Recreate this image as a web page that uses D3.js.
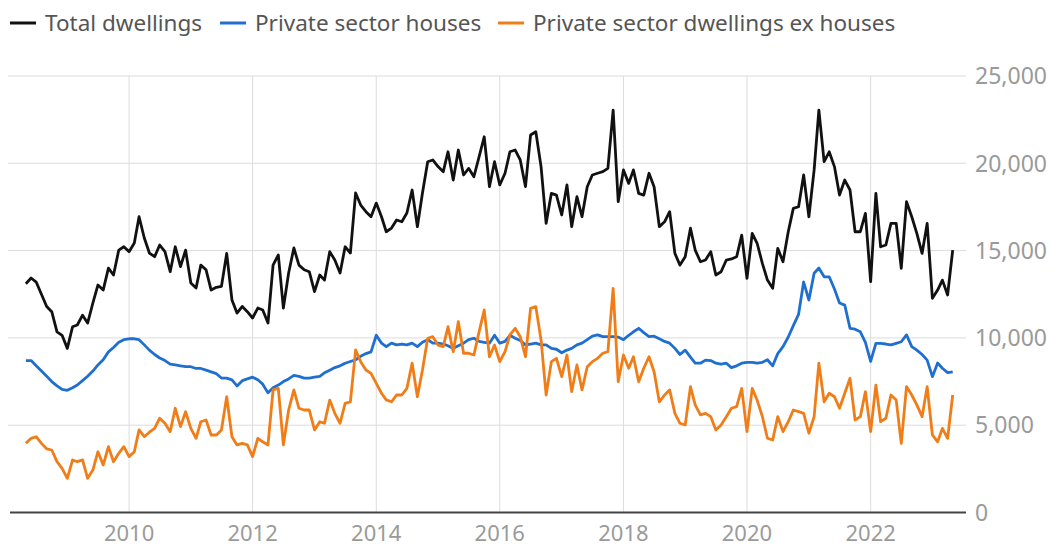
<!DOCTYPE html>
<html>
<head>
<meta charset="utf-8">
<script src="https://cdn.jsdelivr.net/npm/d3@7"></script>
<style>
  body { margin: 0; background: #fff; }
  svg { display: block; font-family: "Noto Sans", sans-serif; }
</style>
</head>
<body>
<svg id="chart"></svg>
<script>
// monthly, May 2008 - May 2023
var firstMonth = new Date(2008, 4, 1);

var seriesNames = ["Total dwellings", "Private sector houses", "Private sector dwellings ex houses"];
var seriesColors = ["#111111", "#1f6fd0", "#f07d17"];

var totalDwellings = [
  13100, 13430, 13200, 12500, 11800, 11500, 10350, 10150,
  9400, 10640, 10740, 11300, 10850, 12000, 13030, 12740, 14000, 13600, 15030, 15220,
  14940, 15430, 16940, 15720, 14860, 14650, 15320, 14940, 13790, 15220, 14080, 15030,
  13140, 12860, 14170, 13900, 12740, 12900, 12950, 14840, 12170, 11420, 11800, 11500,
  11140, 11710, 11600, 10850, 14170, 14750, 11710, 13720, 15150, 14170, 13900, 13790,
  12650, 13600, 13310, 14940, 14460, 13720, 15220, 14860, 18300, 17610, 17230, 16940,
  17720, 16940, 16080, 16290, 16750, 16650, 17150, 18470, 16370, 18300, 20090, 20190,
  19810, 19520, 20660, 19040, 20760, 19330, 19710, 19230, 20380, 21520, 18660, 20090,
  18760, 19430, 20660, 20760, 20190, 18660, 21620, 21810, 19810, 16560, 18280, 18180,
  17040, 18760, 16370, 18090, 16940, 18660, 19330, 19430, 19520, 19710, 23050, 17800,
  19620, 18850, 19620, 18280, 18180, 19430, 18660, 16370, 16650, 17230, 14840, 14170,
  14650, 16280, 15030, 14360, 14460, 14940, 13600, 13790, 14460, 14520, 14650, 15890,
  13410, 15990, 15420, 14270, 13310, 12840, 15130, 14360, 16080, 17420, 17510, 19330,
  16940, 19620, 23050, 20090, 20660, 19810, 18180, 19040, 18470, 16080, 16080, 17130,
  13220, 18280, 15220, 15320, 16560, 16560, 13990, 17800, 16940, 15990, 14840, 16560,
  12270, 12740, 13310, 12460, 15030
];

var privateHouses = [
  8700, 8700, 8400, 8100, 7800, 7500, 7250, 7050,
  7000, 7150, 7300, 7550, 7800, 8100, 8450, 8750, 9200, 9450, 9750, 9900,
  9950, 9950, 9900, 9600, 9300, 9050, 8850, 8700, 8500, 8450, 8400, 8350,
  8350, 8250, 8250, 8150, 8050, 7950, 7700, 7700, 7600, 7250, 7550, 7650,
  7750, 7600, 7350, 6850, 7150, 7300, 7500, 7650, 7850, 7800, 7700, 7700,
  7750, 7800, 8000, 8150, 8300, 8400, 8550, 8650, 8750, 8950, 9100, 9200,
  10150, 9700, 9500, 9700, 9600, 9650, 9600, 9700, 9500, 9750, 9900, 9700,
  9700, 9650, 9550, 9400, 9550, 9700, 9900, 9980, 9800, 9750, 9700, 10150,
  9700, 9800, 10150, 9980, 9850, 9600, 9650, 9700, 9600, 9600, 9400, 9350,
  9150, 9300, 9400, 9600, 9700, 9900, 10100, 10170, 10070, 10070, 10070, 10050,
  9900, 10150, 10350, 10550, 10300, 10070, 10100, 9950, 9800, 9700, 9400, 9050,
  9300, 8900, 8550, 8550, 8730, 8700, 8550, 8500, 8550, 8300, 8400, 8550,
  8600, 8600, 8550, 8600, 8750, 8400, 9100, 9500, 10050, 10700, 11350, 13200,
  12170, 13700, 14000, 13500, 13500, 12800, 12000, 11880, 10550, 10500, 10350, 9750,
  8650, 9690, 9690, 9650, 9600, 9690, 9780, 10170, 9500, 9300, 9050, 8730,
  7780, 8560, 8260, 8010, 8060
];

var privateExHouses = [
  3960, 4250, 4340, 3960, 3650, 3580, 2910, 2530,
  1960, 3010, 2910, 3010, 1960, 2430, 3480, 2720, 3770, 2910, 3390, 3770,
  3200, 3480, 4730, 4340, 4600, 4820, 5400, 5110, 4630, 5970, 4920, 5770,
  4820, 4250, 5200, 5300, 4440, 4440, 4730, 6630, 4340, 3870, 3960, 3870,
  3200, 4250, 4050, 3870, 7020, 7110, 3870, 5870, 7020, 5970, 5870, 5870,
  4730, 5200, 5110, 6440, 5680, 5110, 6250, 6340, 9310, 8640, 8160, 7970,
  7400, 6830, 6450, 6340, 6730, 6730, 7110, 8550, 6630, 8160, 9980, 10070,
  9590, 9500, 10640, 9210, 10930, 9120, 9120, 9020, 10360, 11600, 8920, 9590,
  8640, 9210, 10170, 10550, 10070, 8920, 11690, 11790, 9880, 6730, 8640, 8830,
  7780, 9020, 6920, 8450, 7020, 8350, 8640, 8830, 9120, 9210, 12840, 7490,
  9020, 8260, 8920, 7490, 8260, 8920, 8060, 6340, 6730, 7020, 5680, 5110,
  5010, 7210, 6160, 5590, 5680, 5490, 4730, 5010, 5490, 5970, 6060, 7110,
  4630, 7110, 6440, 5500, 4250, 4150, 5490, 4630, 5200, 5870, 5780, 5680,
  4540, 5490, 8550, 6340, 6830, 6630, 5970, 6830, 7690, 5300, 5490, 6920,
  4630, 7300, 5200, 5400, 6730, 6440, 3960, 7210, 6730, 6160, 5490, 7210,
  4440, 4050, 4820, 4250, 6730
];

var yTicks = [0, 5000, 10000, 15000, 20000, 25000];

var width = 1057, height = 548;
var plotLeft = 8, plotRight = 966, plotTop = 76, plotBottom = 512.5;

var months = totalDwellings.map(function(d, i) { return d3.timeMonth.offset(firstMonth, i); });
var series = [totalDwellings, privateHouses, privateExHouses];

var svg = d3.select("#chart").attr("width", width).attr("height", height);

var x = d3.scaleTime()
  .domain([new Date(2008, 0, 1), new Date(2023, 0, 1)])
  .range([5.4, 5.4 + 15 * 61.8]);

var y = d3.scaleLinear()
  .domain([0, 25000])
  .range([plotBottom, plotTop]);

// horizontal grid
svg.append("g")
  .selectAll("line")
  .data(yTicks.slice(1))
  .enter().append("line")
  .attr("x1", plotLeft).attr("x2", plotRight)
  .attr("y1", function(d) { return y(d); })
  .attr("y2", function(d) { return y(d); })
  .attr("stroke", "#dcdcdc").attr("stroke-width", 1);

// vertical grid
var xTicks = x.ticks(d3.timeYear.every(2)).filter(function(d) { return d.getFullYear() >= 2010; });
svg.append("g")
  .selectAll("line")
  .data(xTicks)
  .enter().append("line")
  .attr("x1", function(d) { return x(d); })
  .attr("x2", function(d) { return x(d); })
  .attr("y1", plotTop).attr("y2", plotBottom)
  .attr("stroke", "#dcdcdc").attr("stroke-width", 1);

// lines
var line = d3.line()
  .x(function(d, i) { return x(months[i]); })
  .y(function(d) { return y(d); });

svg.append("g")
  .selectAll("path")
  .data(series)
  .enter().append("path")
  .attr("d", function(d) { return line(d); })
  .attr("fill", "none")
  .attr("stroke", function(d, i) { return seriesColors[i]; })
  .attr("stroke-width", 2.8)
  .attr("stroke-linejoin", "round");

// baseline
svg.append("line")
  .attr("x1", 10).attr("x2", plotRight)
  .attr("y1", y(0)).attr("y2", y(0))
  .attr("stroke", "#444").attr("stroke-width", 2);

// y labels
svg.append("g")
  .selectAll("text")
  .data(yTicks)
  .enter().append("text")
  .attr("x", 975)
  .attr("y", function(d) { return y(d); })
  .attr("dy", "0.36em")
  .attr("fill", "#9a9a9a")
  .attr("font-size", 23)
  .text(function(d) { return d3.format(",")(d); });

// x labels
svg.append("g")
  .selectAll("text")
  .data(xTicks)
  .enter().append("text")
  .attr("x", function(d) { return x(d); })
  .attr("y", 541)
  .attr("text-anchor", "middle")
  .attr("fill", "#9a9a9a")
  .attr("font-size", 22)
  .text(function(d) { return d3.timeFormat("%Y")(d); });

// legend
var legendX = [10, 220, 498];
var legend = svg.append("g")
  .selectAll("g")
  .data(seriesNames)
  .enter().append("g")
  .attr("transform", function(d, i) { return "translate(" + legendX[i] + ",23)"; });

legend.append("line")
  .attr("x1", 0).attr("x2", 26)
  .attr("stroke", function(d, i) { return seriesColors[i]; })
  .attr("stroke-width", 3);

legend.append("text")
  .attr("x", 35)
  .attr("dy", "0.35em")
  .attr("fill", "#555")
  .attr("font-size", 22.5)
  .text(function(d) { return d; });
</script>
</body>
</html>
